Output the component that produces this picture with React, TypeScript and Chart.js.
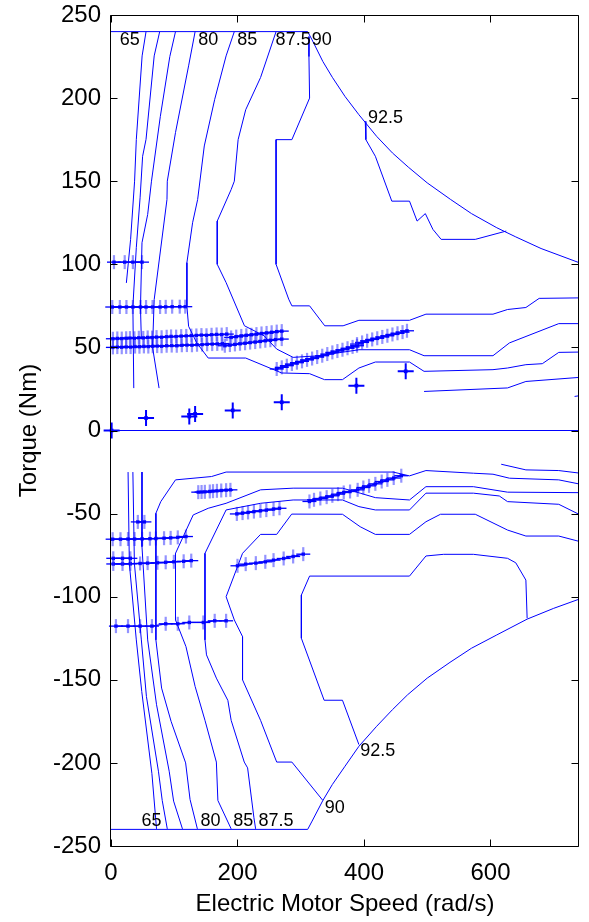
import React, { useEffect, useRef } from 'react';
import { Chart, registerables } from 'chart.js';

Chart.register(...registerables);

type P = [number, number];

const FONT = '"Liberation Sans", Arial, Helvetica, sans-serif';
const BLUE = '#0000ff';
const BAR = 'rgba(40,40,255,0.5)';

// ---- axes ----
const xTicks = [0, 200, 400, 600];
const yTicks = [-250, -200, -150, -100, -50, 0, 50, 100, 150, 200, 250];
const xTitle = 'Electric Motor Speed (rad/s)';
const yTitle = 'Torque (Nm)';

// ---- envelope / zero line ----
const envelopeTop: P[] = [[0, 240], [311, 240], [318, 235], [335, 222], [350, 212.5], [370, 201], [392, 190], [420, 177], [445, 167], [470, 158.5], [500, 149], [537, 139], [570, 130.5], [610, 122], [640, 116.5], [680, 109.5], [740, 101]];
const envelopeBottom: P[] = [[0, -240], [311, -240], [318, -235], [335, -222.6], [350, -213], [370, -202], [392, -190], [420, -178], [445, -168], [469, -159], [500, -149], [536, -139.5], [570, -131], [610, -123], [658, -113.5], [700, -107], [740, -101.5]];
const zeroLine: P[] = [[0, 0], [740, 0]];

// ---- efficiency contours, motoring (top) ----
const c65Top: P[] = [[55.4, 240], [49.2, 225.4], [40, 175], [37.3, 150], [31, 115], [24.3, 88.8]];
const c70Top: P[] = [[77, 240], [68.3, 225.4], [55.4, 175.2], [50, 165], [46, 140], [40, 110], [34.6, 74.7], [36, 25.5]];
const c75Top: P[] = [[102, 240], [93, 225], [78, 189], [64, 150], [58, 130], [49, 113], [46.6, 74], [48, 55]];
const c80Top: P[] = [[133, 240], [122.7, 219.4], [102, 179.3], [89, 150], [88.5, 139], [68.3, 78.8], [65.7, 50], [76, 25.5]];
const c85Top: P[] = [[195, 240], [182, 225.4], [164, 199.3], [147.5, 171.2], [137, 139], [129, 125], [120, 101], [120, 74.7], [122.7, 62.7], [135.6, 52.7], [153.7, 43.6], [213, 43.6], [270, 34.6], [314, 34.2], [337.6, 30.6], [366, 30.6], [392, 37.6], [418, 41.2], [472, 41.2], [495, 35.6], [604, 36.6], [627, 37.6], [656, 39.6], [682, 40.2], [708, 47], [742, 47.2]];
const c875Top: P[] = [[261, 240], [236.5, 212.4], [213, 193], [201, 175], [195, 150], [190, 145], [168, 126], [168, 100], [182, 89], [211, 63], [242, 57], [262, 49], [288, 44], [330, 45], [392, 48.6], [472, 48.6], [495, 45], [604, 45], [630, 52.7], [708, 64.3], [742, 64.3]];
const c90Top: P[] = [[313, 237], [313, 225], [314, 200], [286, 175], [261, 175], [261, 100], [281, 79], [286, 75], [314, 75], [338, 63], [367, 63], [392, 66.3], [472, 66.3], [498, 70], [604, 70], [627, 72.8], [656, 74], [677, 79.5], [742, 79.8]];
const c925Top: P[] = [[402, 186], [403, 175], [418, 165], [444, 138], [472, 138], [484, 126], [497, 130.5], [509, 121], [522, 115], [576, 115], [625, 120]];
const c80TopRight: P[] = [[495, 23.5], [627, 25.6], [656, 29.5], [742, 32]];
const c75TopRight: P[] = [[733, 20.5], [742, 21]];

// ---- efficiency contours, generating (bottom) ----
const c65Bot: P[] = [[27, -25], [29, -80], [40, -126], [48.6, -157], [64.7, -206.5], [72, -239.7]];
const c70Bot: P[] = [[34.6, -25], [37, -80], [48, -126], [56, -160], [75, -205], [81, -222.6], [89, -239.7]];
const c75Bot: P[] = [[49, -25], [49, -70], [58, -126], [72, -165], [92, -205], [99, -223], [113, -239.7]];
const c75BotRight: P[] = [[617, -20.3], [656, -23.7], [708, -24.1], [742, -25.7]];
const c80Bot: P[] = [[742, -32.3], [708, -29.7], [630, -28.7], [604, -26.3], [573, -25.7], [498, -24.1], [472, -27.3], [446, -25], [182, -25], [159, -27.7], [102, -29.7], [78.7, -42.8], [71, -49.8], [71, -126], [80, -155], [95, -175], [118, -200], [125, -222], [136.6, -239.7]];
const c85Bot: P[] = [[742, -37.4], [627, -37.1], [573, -33.8], [498, -33.8], [472, -41.8], [418, -40.4], [394, -37.7], [366, -34.7], [288, -34.7], [236.5, -35.7], [182, -43.8], [153.7, -46.8], [130, -50.8], [102, -73.9], [102, -114], [118.5, -130], [133, -154], [148.6, -174.4], [166.6, -199.5], [169, -222.6], [190, -239.7]];
const c875Bot: P[] = [[742, -50.8], [708, -44.4], [627, -42.8], [614, -39.4], [573, -37.7], [498, -37.7], [472, -47.8], [418, -47.8], [392, -45.8], [366, -41.8], [288, -41.8], [236.5, -43.8], [182, -47.8], [148.6, -73.9], [148.6, -126], [151, -135], [166.6, -149], [184.8, -162.4], [190, -174.4], [210.7, -199.5], [216, -203], [226, -233], [228.7, -239.7]];
const c90Bot: P[] = [[742, -66.9], [708, -63.5], [656, -63.5], [627, -59.9], [576, -50.4], [521, -50.4], [498, -54.9], [472, -62.5], [418, -62.5], [394, -57.9], [366, -50.4], [285.7, -50.3], [262, -62.5], [236.5, -62.5], [208, -73.9], [182, -100], [195, -114], [208, -124], [208, -150], [236.5, -174.4], [262, -199.5], [286, -199.5], [335, -222.6]];
const c925Bot: P[] = [[658, -113], [656, -90], [640, -79.6], [627, -76.9], [573, -74.5], [526, -74.5], [498, -75.5], [472, -87.6], [314, -87.6], [301, -99], [301, -125], [337, -162.3], [366, -162.3], [392, -189]];

// ---- contour labels ----
const labelText = ['65', '80', '85', '87.5', '90', '92.5', '65', '80', '85', '87.5', '90', '92.5'];
const labelX = [29.5, 153.6, 215.6, 288, 333.2, 434, 63.9, 157.4, 209.1, 261, 353.7, 421.7];
const labelY = [235.2, 235.2, 235.2, 235.2, 235.2, 188.1, -234.8, -234.8, -234.8, -234.8, -227.3, -192.9];

// ---- operating points (motoring) ----
const opA: P[] = [[4.7, 101.3], [21.7, 101.3], [34.6, 101.3], [49, 101.3]];
const opB: P[] = [[2, 74.3], [14, 74.3], [24.4, 74.3], [34.6, 74.3], [46.6, 74.3], [55.4, 74.3], [65.7, 74.3], [77.6, 74.3], [86.5, 74.4], [96.7, 74.5], [108.7, 74.5], [117.4, 74.5]];
const opC: P[] = [[3, 55.2], [10, 55.4], [17, 55.3], [24, 55.5], [30, 55.6], [37, 55.5], [44, 55.8], [51, 55.7], [58, 56], [65, 55.9], [72, 56.2], [80, 56.1], [88, 56.4], [95, 56.6], [103, 56.5], [111, 56.8], [119, 56.9], [127, 57.1], [135, 57.2], [143, 57.4], [151, 57.3], [159, 57.6], [167, 57.8], [175, 57.7], [183, 58]];
const opC2: P[] = [[190, 56], [198, 56.5], [206, 56.9], [214, 57.3], [222, 57.6], [230, 58], [238, 58.4], [246, 58.7], [254, 59.1], [262, 59.5], [270, 59.8]];
const opD: P[] = [[3, 50], [10, 50.2], [17, 50.1], [24, 50.3], [31, 50.2], [38, 50.5], [45, 50.4], [52, 50.6], [59, 50.5], [66, 50.7], [73, 50.8], [80, 50.7], [88, 51], [96, 51.1], [104, 51], [112, 51.3], [120, 51.4], [128, 51.3], [136, 51.6], [144, 51.7], [152, 51.9], [160, 52], [168, 52.1], [176, 52.3]];
const opD2: P[] = [[180, 51], [188, 51.4], [196, 51.8], [204, 52.2], [212, 52.5], [220, 52.9], [228, 53.2], [236, 53.6], [244, 54], [252, 54.3], [260, 54.7], [270, 55]];
const opE: P[] = [[262, 37], [270, 38], [278, 39], [286, 40], [294, 40.8], [302, 41.6], [310, 42.5], [318, 43.3], [326, 44.2], [334, 45], [342, 46], [350, 47], [358, 47.8], [366, 48.6], [374, 49.5], [382, 50.3], [389, 51]];
const opE2: P[] = [[389, 52], [397, 53], [405, 54], [413, 54.8], [421, 55.5], [429, 56.3], [437, 57], [445, 57.8], [453, 58.5], [461, 59.2], [468, 60]];
const opSingle: P[] = [[1, 0], [55.4, 7.5], [123.8, 8.4], [133, 10], [192.5, 12.1], [270, 17], [388, 27], [466, 35.6]];

// ---- operating points (generating) ----
const opF: P[] = [[138, -37.1], [143.2, -37], [148.4, -36.9], [156.2, -36.7], [161.3, -36.5], [167.5, -36.3], [174.3, -36.1], [182, -35.9], [188.8, -35.7]];
const opG: P[] = [[199, -50.2], [208, -49.7], [216.7, -49.3], [226, -48.8], [236.3, -48.3], [245.6, -47.9], [257, -47.3], [266.4, -46.8]];
const opH: P[] = [[313.8, -42.7], [321, -41.7], [331, -40.9], [341, -40.1], [350, -39.3], [359, -38.3], [368, -37.3], [378, -36.7], [390, -35.7], [399, -34.3], [408, -33.3], [418, -32.1], [428, -30.7], [437, -29.7], [447, -28.6], [459, -27.2]];
const opI: P[] = [[42.4, -55], [52.8, -55]];
const opJ: P[] = [[2.6, -65.4], [15, -65.4], [26.9, -65.3], [37.3, -65.3], [49.2, -65.2], [61.6, -65.1], [71, -65], [83.9, -64.8], [94.3, -64.6], [105.6, -64.3], [118.5, -63.8]];
const opK: P[] = [[3.6, -76.9], [18.2, -76.9], [30.6, -76.9]];
const opL: P[] = [[3.6, -80.3], [18.2, -80.3], [30.6, -80.2], [46, -80], [57.9, -79.8], [73.4, -79.6], [86.5, -79.3], [99.4, -79], [114.9, -78.7], [126.9, -78.3]];
const opM: P[] = [[200, -81.4], [213, -80.4], [229, -79.8], [244, -79], [257, -78], [273, -77], [288, -75.8], [304, -74.4]];
const opN: P[] = [[7.8, -117.7], [26.9, -117.7], [46, -117.7], [64.7, -117.7], [86.5, -116.3], [105.6, -116.3], [123.8, -115.5], [146, -115.5], [164, -114.5], [182, -114.5]];

const contourList: P[][] = [envelopeTop, envelopeBottom, zeroLine, c65Top, c70Top, c75Top, c80Top, c85Top, c875Top, c90Top, c925Top, c80TopRight, c75TopRight, c65Bot, c70Bot, c75Bot, c75BotRight, c80Bot, c85Bot, c875Bot, c90Bot, c925Bot];
const groupList: P[][] = [opA, opB, opC, opC2, opD, opD2, opE, opE2, opF, opG, opH, opI, opJ, opK, opL, opM, opN];

const toXY = (pts: P[]) => pts.map(([x, y]) => ({ x, y }));

function contourSet(pts: P[]) {
  return { data: toXY(pts), showLine: true, borderColor: BLUE, borderWidth: 1, pointRadius: 0, fill: false, tension: 0 };
}

function groupSets(pts: P[]) {
  const data = toXY(pts);
  return [
    { data, showLine: true, borderColor: BLUE, borderWidth: 1.3, pointStyle: 'line', pointRadius: 7, pointBorderColor: BLUE, pointBorderWidth: 1.3, clip: false },
    { data, showLine: false, pointStyle: 'line', pointRotation: 90, pointRadius: 7, pointBorderColor: BAR, pointBorderWidth: 2.2, clip: false },
    { data, showLine: false, pointStyle: 'rect', pointRadius: 2.4, pointBackgroundColor: BLUE, pointBorderColor: BLUE, pointBorderWidth: 0, clip: false },
  ];
}

function singleSets(pts: P[]) {
  const data = toXY(pts);
  return [
    { data, showLine: false, pointStyle: 'cross', pointRadius: 8, pointBorderColor: BLUE, pointBorderWidth: 2, clip: false },
    { data, showLine: false, pointStyle: 'rect', pointRadius: 2.6, pointBackgroundColor: BLUE, pointBorderColor: BLUE, pointBorderWidth: 0, clip: false },
  ];
}

const framePlugin = {
  id: 'frameAndLabels',
  afterDatasetsDraw(chart: any) {
    const { ctx, chartArea: a, scales } = chart;
    const xs = scales.x;
    const ys = scales.y;
    ctx.save();
    ctx.fillStyle = '#000';
    ctx.font = `18px ${FONT}`;
    ctx.textAlign = 'center';
    ctx.textBaseline = 'middle';
    labelText.forEach((t, i) => {
      ctx.fillText(t, xs.getPixelForValue(labelX[i]), ys.getPixelForValue(labelY[i]));
    });
    ctx.strokeStyle = '#000';
    ctx.lineWidth = 1;
    const L = a.left - 0.5;
    const R = a.right - 0.5;
    const T = a.top + 0.5;
    const B = a.bottom + 0.5;
    ctx.beginPath();
    ctx.moveTo(L, T); ctx.lineTo(R, T); ctx.lineTo(R, B); ctx.lineTo(L, B); ctx.closePath();
    const tl = 7;
    xTicks.forEach((v) => {
      const px = Math.round(xs.getPixelForValue(v)) + 0.5;
      ctx.moveTo(px, B); ctx.lineTo(px, B - tl);
      ctx.moveTo(px, T); ctx.lineTo(px, T + tl);
    });
    yTicks.forEach((v) => {
      const py = Math.round(ys.getPixelForValue(v)) + 0.5;
      ctx.moveTo(L, py); ctx.lineTo(L + tl, py);
      ctx.moveTo(R, py); ctx.lineTo(R - tl, py);
    });
    ctx.stroke();
    ctx.restore();
  },
};

export default function App() {
  const ref = useRef<HTMLCanvasElement>(null);
  useEffect(() => {
    const datasets: any[] = [];
    contourList.forEach((c) => datasets.push(contourSet(c)));
    groupList.forEach((g) => datasets.push(...groupSets(g)));
    datasets.push(...singleSets(opSingle));
    const tickFont = { family: FONT, size: 24 };
    const chart = new Chart(ref.current as HTMLCanvasElement, {
      type: 'scatter',
      data: { datasets },
      options: {
        animation: false,
        responsive: false,
        events: [],
        layout: { padding: { left: 0, right: 1, top: 15, bottom: 0 } },
        plugins: { legend: { display: false }, tooltip: { enabled: false } },
        scales: {
          x: {
            type: 'linear',
            min: 0,
            max: 740,
            grid: { display: false, drawTicks: false },
            border: { display: false },
            ticks: { font: tickFont, color: '#000', padding: 13, maxRotation: 0 },
            afterBuildTicks: (s: any) => { s.ticks = xTicks.map((v) => ({ value: v })); },
            afterFit: (s: any) => { s.height = 76; s.paddingLeft = 0; s.paddingRight = 0; },
            title: { display: true, text: xTitle, font: tickFont, color: '#000', padding: { top: 0, bottom: 3 } },
          },
          y: {
            type: 'linear',
            min: -250,
            max: 250,
            grid: { display: false, drawTicks: false },
            border: { display: false },
            ticks: { font: tickFont, color: '#000', padding: 10 },
            afterBuildTicks: (s: any) => { s.ticks = yTicks.map((v) => ({ value: v })); },
            afterFit: (s: any) => { s.width = 111; s.paddingTop = 0; s.paddingBottom = 0; },
            title: { display: true, text: yTitle, font: tickFont, color: '#000', padding: { top: 15, bottom: 0 } },
          },
        },
      } as any,
      plugins: [framePlugin],
    });
    return () => chart.destroy();
  }, []);
  return (
    <div style={{ position: 'fixed', left: 0, top: 0, width: 589, height: 922, background: '#fff' }}>
      <canvas ref={ref} width={589} height={922} style={{ display: 'block', width: 589, height: 922 }} />
    </div>
  );
}
